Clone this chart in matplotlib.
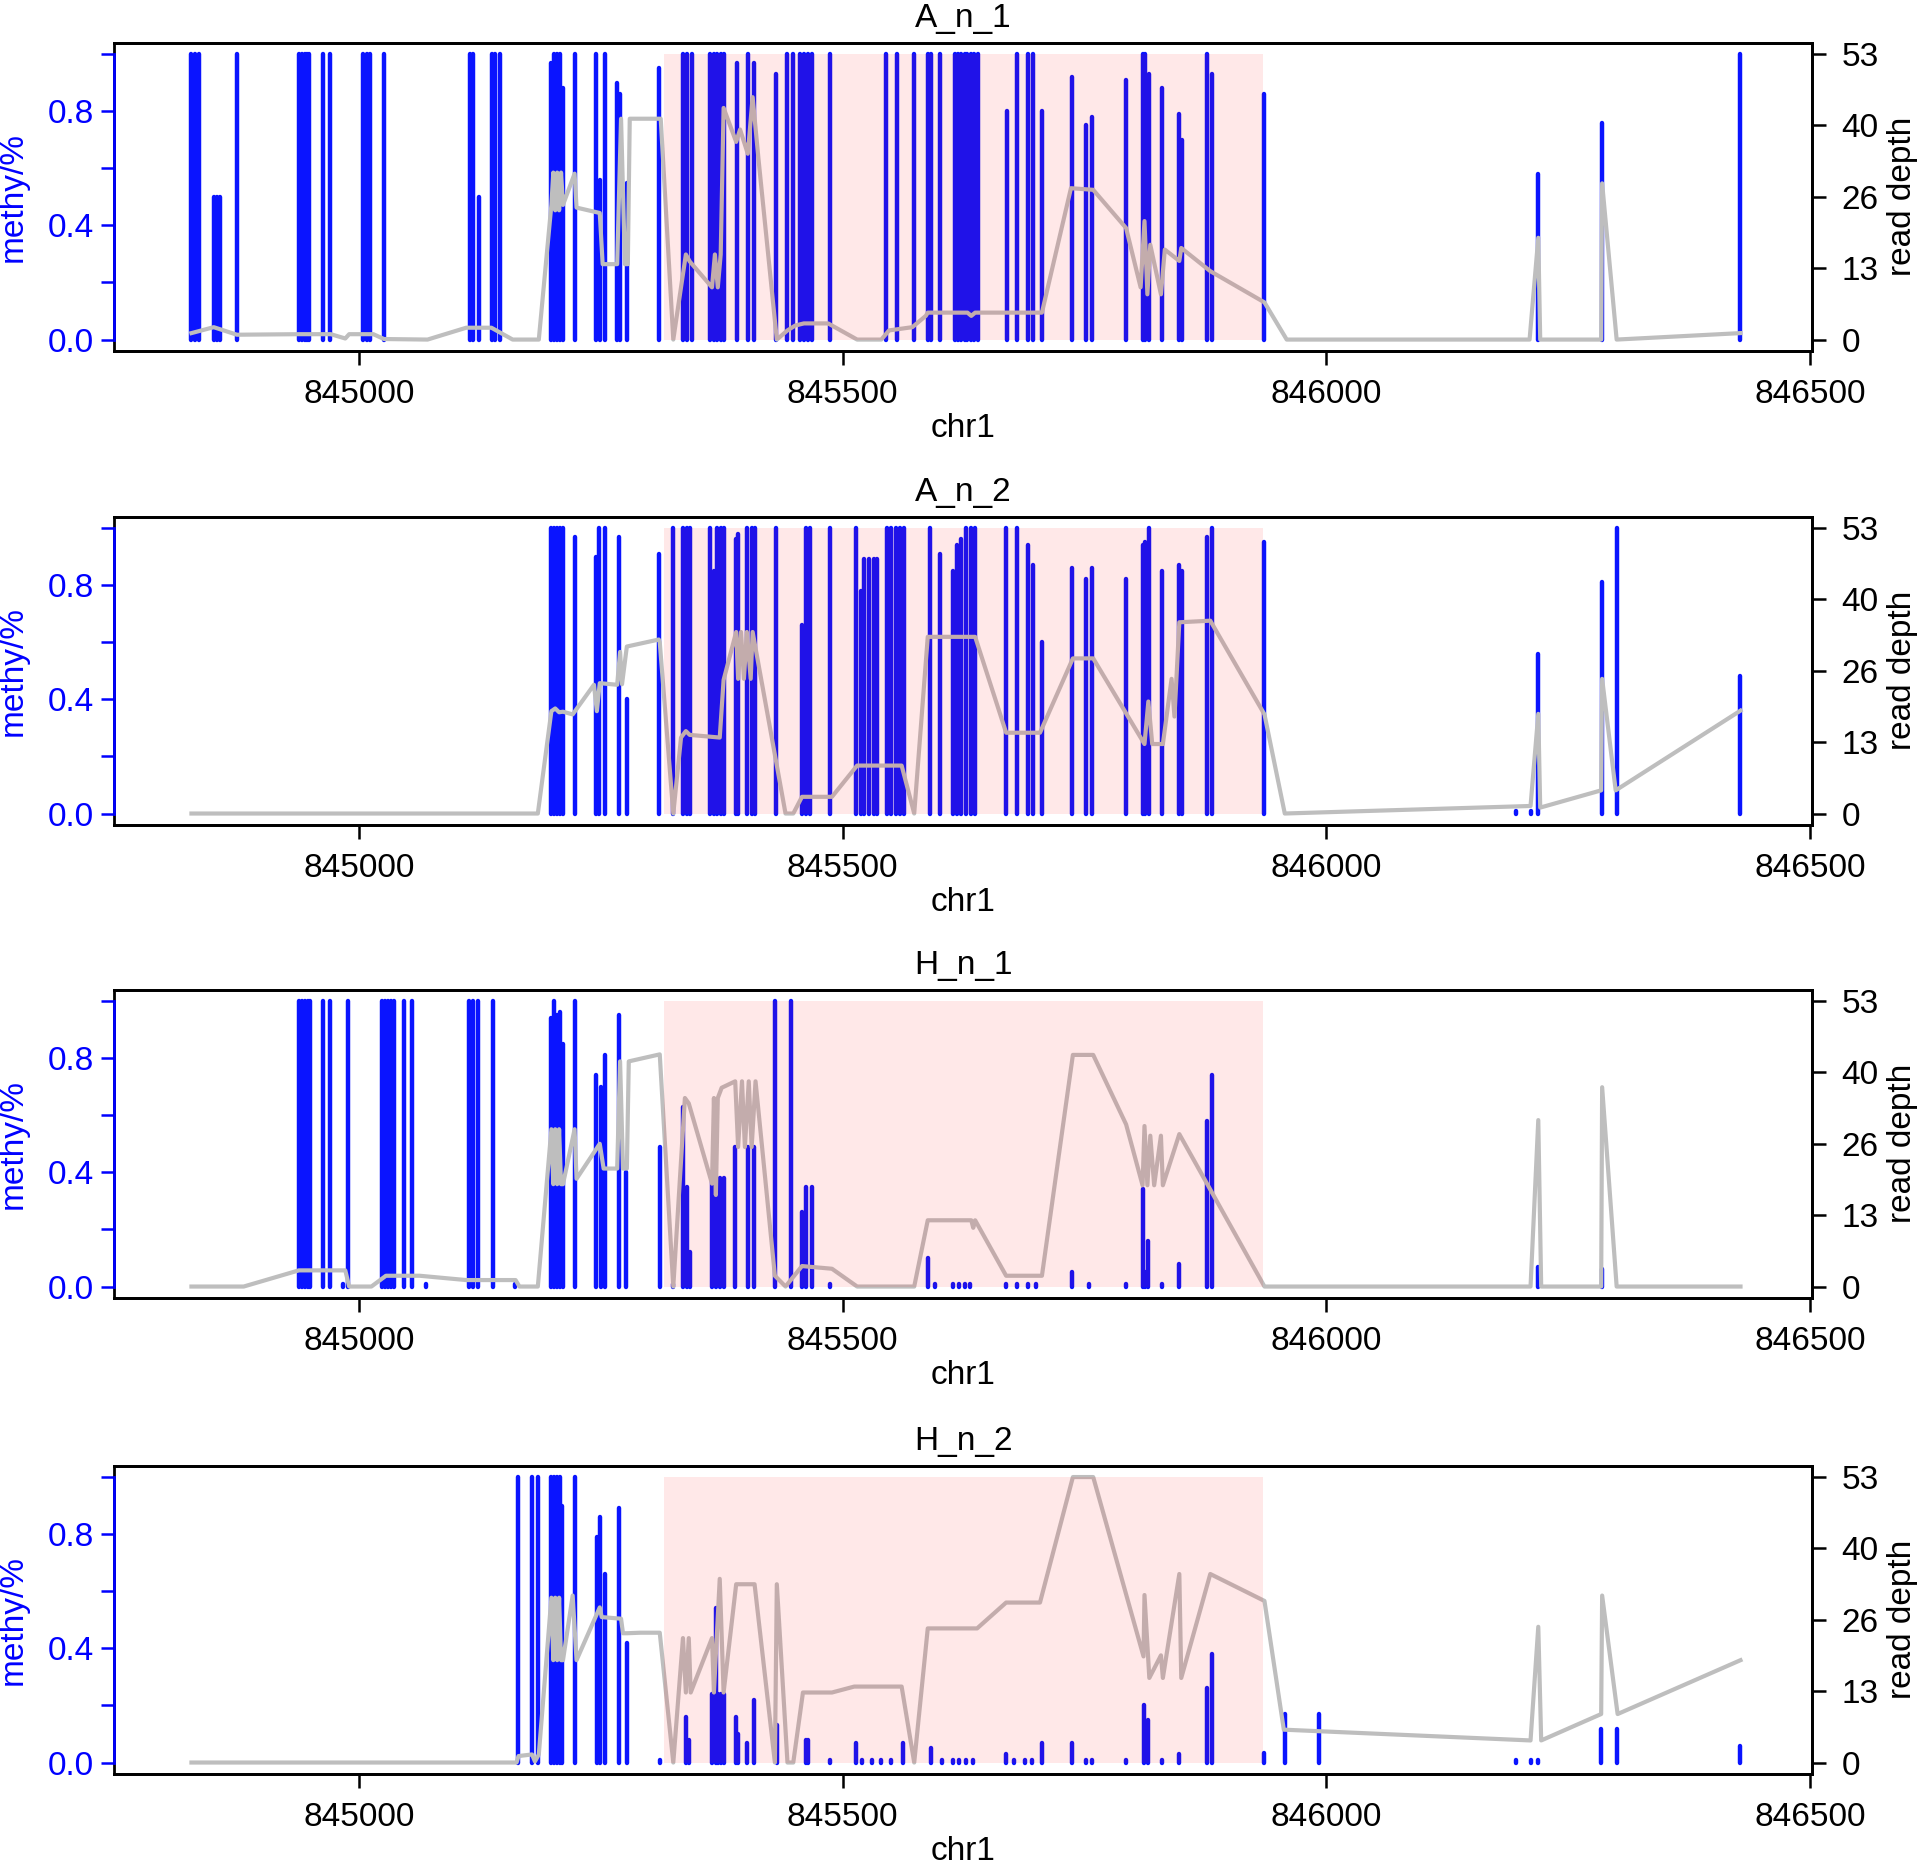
import matplotlib
matplotlib.use('Agg')
import matplotlib.pyplot as plt
from matplotlib.patches import Rectangle

plt.rcParams['font.family'] = ['Liberation Sans', 'DejaVu Sans']

# ---- data -------------------------------------------------------------
titles = ['A_n_1', 'A_n_2', 'H_n_1', 'H_n_2']

# A_n_1 : CpG position / methylation level
a1_cpg = [844827, 844831, 844835, 844850, 844853, 844856, 844874, 844938, 844941, 844944,
          844946, 844949, 844963, 844970, 845004, 845008, 845012, 845026, 845115, 845118,
          845124, 845138, 845141, 845146, 845199, 845202, 845205, 845208, 845211, 845223,
          845245, 845249, 845254, 845267, 845270, 845277, 845310, 845335, 845339, 845344,
          845363, 845367, 845370, 845374, 845377, 845391, 845402, 845408, 845431, 845443,
          845449, 845456, 845460, 845464, 845468, 845487, 845545, 845556, 845574, 845588,
          845591, 845601, 845616, 845619, 845622, 845626, 845629, 845633, 845636, 845640,
          845670, 845680, 845692, 845697, 845706, 845737, 845752, 845758, 845793, 845810,
          845813, 845817, 845830, 845848, 845851, 845877, 845882, 845936, 846219, 846285,
          846428]
a1_methy = [1.0, 1.0, 1.0, 0.5, 0.5, 0.5, 1.0, 1.0, 1.0, 1.0,
            1.0, 1.0, 1.0, 1.0, 1.0, 1.0, 1.0, 1.0, 1.0, 1.0,
            0.5, 1.0, 1.0, 1.0, 0.97, 1.0, 1.0, 1.0, 0.88, 1.0,
            1.0, 0.56, 1.0, 0.9, 0.86, 0.55, 0.95, 1.0, 1.0, 1.0,
            1.0, 1.0, 1.0, 1.0, 1.0, 0.97, 1.0, 0.97, 0.93, 1.0,
            1.0, 1.0, 1.0, 1.0, 1.0, 1.0, 1.0, 1.0, 1.0, 1.0,
            1.0, 1.0, 1.0, 1.0, 1.0, 1.0, 1.0, 1.0, 1.0, 1.0,
            0.80, 1.0, 1.0, 1.0, 0.80, 0.92, 0.75, 0.78, 0.91, 1.0,
            1.0, 0.93, 0.88, 0.79, 0.70, 1.0, 0.93, 0.86, 0.58, 0.76,
            1.0]
# A_n_1 : read depth
a1_dpos = [844827, 844850, 844874, 844938, 844971, 844986, 844990, 845015, 845026, 845071,
           845111, 845137, 845159, 845186, 845199, 845201, 845203, 845205, 845207, 845209,
           845211, 845223, 845225, 845249, 845252, 845267, 845271, 845275, 845278, 845280,
           845312, 845325, 845338, 845342, 845365, 845368, 845371, 845374, 845377, 845390,
           845394, 845402, 845407, 845413, 845432, 845443, 845451, 845460, 845485, 845515,
           845540, 845548, 845572, 845586, 845588, 845629, 845633, 845637, 845706, 845736,
           845759, 845793, 845808, 845812, 845815, 845818, 845829, 845833, 845848, 845850,
           845880, 845936, 845959, 846210, 846219, 846221, 846284, 846285, 846300, 846428]
a1_depth = [1.2, 2.3, 0.9, 1.0, 1.0, 0.2, 1.0, 1.0, 0.1, 0.0,
            2.2, 2.2, 0.0, 0.0, 25, 31, 24, 31, 24, 31,
            25, 30.8, 24.5, 23.5, 14.0, 14.0, 41, 14, 14, 41,
            41, 0, 15.8, 14.5, 9.7, 15.8, 9.7, 15.8, 43, 36.7,
            39, 34.5, 45, 33.6, 0, 1.7, 2.6, 3.0, 3.0, 0.0,
            0.0, 1.7, 2.3, 4.4, 5.0, 5.0, 4.4, 5.0, 5.0, 28.1,
            27.8, 20.7, 9.7, 22, 8.4, 17.6, 8.4, 16.7, 14.6, 17,
            12.7, 6.9, 0, 0, 18.9, 0, 0, 29, 0, 1.2]

# A_n_2
a2_cpg = [845199, 845202, 845205, 845208, 845211, 845223, 845245, 845248, 845254, 845269,
          845277, 845310, 845325, 845335, 845339, 845342, 845363, 845367, 845370, 845374,
          845377, 845390, 845392, 845401, 845406, 845409, 845431, 845458, 845462, 845466,
          845487, 845514, 845519, 845522, 845527, 845532, 845536, 845546, 845550, 845555,
          845559, 845563, 845590, 845601, 845614, 845618, 845622, 845628, 845633, 845637,
          845669, 845680, 845692, 845697, 845706, 845737, 845752, 845758, 845793, 845810,
          845813, 845817, 845830, 845848, 845851, 845877, 845882, 845936, 846196, 846211,
          846219, 846285, 846300, 846428]
a2_methy = [1.0, 1.0, 1.0, 1.0, 1.0, 0.97, 0.9, 1.0, 1.0, 0.97,
            0.4, 0.91, 1.0, 1.0, 1.0, 1.0, 1.0, 0.85, 1.0, 1.0,
            1.0, 0.96, 0.98, 1.0, 1.0, 1.0, 1.0, 0.66, 1.0, 1.0,
            1.0, 1.0, 0.78, 0.89, 0.89, 0.89, 0.89, 1.0, 1.0, 1.0,
            1.0, 1.0, 1.0, 0.91, 0.85, 0.94, 0.96, 1.0, 1.0, 1.0,
            1.0, 1.0, 0.94, 0.87, 0.60, 0.86, 0.82, 0.86, 0.82, 0.94,
            0.95, 1.0, 0.85, 0.87, 0.85, 0.97, 1.0, 0.95, 0.01, 0.01,
            0.56, 0.81, 1.0, 0.48]
a2_dpos = [844827, 845185, 845199, 845203, 845207, 845211, 845221, 845243, 845246, 845249,
           845267, 845270, 845272, 845277, 845310, 845311, 845325, 845333, 845338, 845342,
           845373, 845377, 845390, 845392, 845395, 845398, 845401, 845405, 845407, 845441,
           845449, 845458, 845489, 845515, 845561, 845574, 845588, 845637, 845669, 845704,
           845738, 845759, 845812, 845816, 845820, 845831, 845840, 845843, 845848, 845880,
           845936, 845957, 846211, 846219, 846221, 846284, 846285, 846299, 846428]
a2_depth = [0, 0, 19, 19.5, 18.8, 18.9, 18.4, 23.9, 19, 24.2,
            23.9, 30, 24, 31, 32.3, 31.8, 0, 14.1, 15.3, 14.6,
            14.1, 24.8, 33.7, 25, 33.7, 25, 33.7, 25, 33.7, 0,
            0, 3.1, 3.1, 8.9, 8.9, 0, 32.8, 32.8, 15, 15,
            28.8, 28.8, 12.9, 20.8, 12.9, 12.9, 25, 18, 35.5, 35.8,
            18.4, 0, 1.4, 18.5, 1.1, 4.3, 25, 4.3, 19.1]

# H_n_1
h1_cpg = [844938, 844941, 844944, 844947, 844950, 844963, 844970, 844984, 844989, 845024,
          845027, 845030, 845033, 845036, 845047, 845055, 845069, 845114, 845118, 845123,
          845139, 845161, 845199, 845202, 845205, 845208, 845211, 845223, 845245, 845250,
          845254, 845269, 845276, 845311, 845325, 845335, 845339, 845342, 845365, 845369,
          845373, 845377, 845389, 845402, 845408, 845430, 845447, 845458, 845462, 845468,
          845487, 845588, 845596, 845614, 845620, 845626, 845632, 845669, 845680, 845692,
          845700, 845737, 845755, 845793, 845810, 845813, 845816, 845830, 845848, 845877,
          845882, 846219, 846285]
h1_methy = [1.0, 1.0, 1.0, 1.0, 1.0, 1.0, 1.0, 0.01, 1.0, 1.0,
            1.0, 1.0, 1.0, 1.0, 1.0, 1.0, 0.01, 1.0, 1.0, 1.0,
            1.0, 0.01, 0.94, 1.0, 0.95, 0.96, 0.85, 1.0, 0.74, 0.70,
            0.81, 0.95, 0.40, 0.49, 0.01, 0.63, 0.35, 0.12, 0.38, 0.38,
            0.38, 0.38, 0.49, 0.49, 0.49, 1.0, 1.0, 0.26, 0.35, 0.35,
            0.01, 0.10, 0.01, 0.01, 0.01, 0.01, 0.01, 0.01, 0.01, 0.01,
            0.01, 0.05, 0.01, 0.01, 0.34, 0.05, 0.16, 0.01, 0.08, 0.58,
            0.74, 0.07, 0.06]
h1_dpos = [844827, 844881, 844938, 844986, 844990, 845013, 845028, 845063, 845111, 845162,
           845166, 845185, 845199, 845201, 845203, 845205, 845207, 845209, 845211, 845223,
           845225, 845249, 845253, 845267, 845270, 845273, 845277, 845279, 845311, 845325,
           845337, 845341, 845365, 845367, 845369, 845371, 845375, 845389, 845392, 845396,
           845399, 845403, 845406, 845410, 845430, 845441, 845458, 845489, 845515, 845574,
           845588, 845633, 845635, 845637, 845669, 845706, 845738, 845759, 845793, 845810,
           845812, 845815, 845818, 845822, 845829, 845831, 845848, 845936, 846211, 846219,
           846222, 846284, 846285, 846300, 846428]
h1_depth = [0, 0, 3.0, 3.0, 0, 0, 2.0, 2.0, 1.2, 1.2,
            0, 0, 29.2, 19, 29.2, 19, 29.2, 19, 19, 29.2,
            20, 26.5, 21.9, 21.9, 41.8, 21.9, 21.9, 41.8, 43.1, 0,
            35, 34, 19.1, 35, 17, 35, 36.9, 38.1, 25.9, 38.1,
            25.9, 38.1, 25.9, 38.1, 2, 0, 3.8, 3.3, 0, 0,
            12.3, 12.3, 10.9, 12.3, 2.0, 2.0, 43, 43, 30.1, 18.8,
            29.8, 18.8, 28, 18.8, 28, 18.8, 28.3, 0, 0, 30.9,
            0, 0, 37, 0, 0]

# H_n_2
h2_cpg = [845164, 845179, 845185, 845199, 845202, 845205, 845208, 845210, 845223, 845246,
          845249, 845254, 845269, 845277, 845311, 845338, 845341, 845365, 845369, 845371,
          845374, 845377, 845390, 845392, 845401, 845408, 845432, 845462, 845464, 845487,
          845514, 845520, 845530, 845540, 845550, 845562, 845591, 845603, 845614, 845620,
          845628, 845635, 845669, 845677, 845688, 845696, 845706, 845737, 845752, 845758,
          845793, 845811, 845816, 845830, 845848, 845877, 845882, 845936, 845957, 845992,
          846196, 846211, 846219, 846284, 846300, 846428]
h2_methy = [1.0, 1.0, 1.0, 1.0, 1.0, 1.0, 1.0, 0.9, 1.0, 0.79,
            0.86, 0.66, 0.89, 0.42, 0.01, 0.16, 0.08, 0.24, 0.54, 0.24,
            0.24, 0.24, 0.16, 0.10, 0.07, 0.22, 0.13, 0.08, 0.08, 0.01,
            0.07, 0.01, 0.01, 0.01, 0.01, 0.07, 0.05, 0.01, 0.01, 0.01,
            0.01, 0.01, 0.03, 0.01, 0.01, 0.01, 0.07, 0.07, 0.01, 0.01,
            0.01, 0.20, 0.15, 0.01, 0.03, 0.26, 0.38, 0.035, 0.17, 0.17,
            0.01, 0.01, 0.01, 0.116, 0.116, 0.058]
h2_dpos = [844827, 845163, 845165, 845179, 845182, 845186, 845199, 845201, 845203, 845205,
           845207, 845209, 845211, 845221, 845225, 845249, 845251, 845271, 845273, 845277,
           845291, 845311, 845325, 845335, 845338, 845341, 845343, 845365, 845367, 845373,
           845377, 845390, 845409, 845430, 845432, 845443, 845449, 845459, 845489, 845512,
           845561, 845574, 845588, 845639, 845669, 845704, 845738, 845759, 845811, 845812,
           845817, 845829, 845831, 845848, 845850, 845880, 845936, 845956, 846211, 846219,
           846222, 846284, 846285, 846301, 846428]
h2_depth = [0, 0, 1.2, 1.5, 0.2, 1.5, 30.6, 19, 30.6, 19,
            30.6, 19, 19, 31, 19, 28.8, 27, 26.7, 24, 24,
            24.1, 24.1, 0, 23.1, 13, 23.1, 13, 23.1, 13, 34.1,
            13, 33.1, 33.1, 0, 33.1, 0, 0, 13, 13, 14.1,
            14.1, 0, 24.9, 24.9, 29.7, 29.7, 53, 53, 19.7, 31.1,
            15.7, 19.9, 15.7, 35, 15.7, 35, 30.0, 6.1, 4.1, 25.2,
            4.1, 9.0, 31, 9.0, 19.0]

region_start = 845315
region_end = 845935
depth_max = 53

cpg_all = [a1_cpg, a2_cpg, h1_cpg, h2_cpg]
methy_all = [a1_methy, a2_methy, h1_methy, h2_methy]
dpos_all = [a1_dpos, a2_dpos, h1_dpos, h2_dpos]
depth_all = [a1_depth, a2_depth, h1_depth, h2_depth]

# ---- plotting ---------------------------------------------------------
fig = plt.figure(figsize=(19.2, 18.63), dpi=100)
bottoms = [0.8116, 0.5572, 0.3033, 0.0478]
fs = 24

for i in range(4):
    ax = fig.add_axes([0.0594, bottoms[i], 0.8844, 0.1655])
    ax.vlines(cpg_all[i], 0, methy_all[i], colors='#0a14ff', linewidth=3.2, capstyle='round')
    ax.set_xlim(844747, 846502)
    ax.set_ylim(-0.04, 1.04)
    ax.set_xticks([845000, 845500, 846000, 846500])
    ax.set_xticklabels(['845000', '845500', '846000', '846500'])
    ax.set_yticks([0, 0.2, 0.4, 0.6, 0.8, 1.0])
    ax.set_yticklabels(['0.0', '', '0.4', '', '0.8', ''])
    ax.tick_params(axis='x', length=10, width=1.8, labelsize=fs, pad=10)
    ax.tick_params(axis='y', colors='blue', length=9.5, width=1.8, labelsize=fs, pad=5)
    for s in ax.spines.values():
        s.set_linewidth(2)
    # blue left axis line over the box
    ax.plot([0, 0], [0, 1], transform=ax.get_yaxis_transform(), color='blue',
            linewidth=2, clip_on=False, zorder=3)
    ax.set_xlabel('chr1', fontsize=fs)
    ax.xaxis.set_label_coords(0.5, -0.2)
    ax.set_ylabel('methy/%', fontsize=fs, color='blue')
    ax.yaxis.set_label_coords(-0.05, 0.5)
    ax.set_title(titles[i], fontsize=fs, pad=11)

    ax2 = ax.twinx()
    ax2.plot(dpos_all[i], depth_all[i], color='#bebebe', linewidth=3)
    ax2.add_patch(Rectangle((region_start, 0), region_end - region_start, depth_max,
                            facecolor='red', alpha=0.09, linewidth=0, zorder=4))
    ax2.set_ylim(-0.04 * depth_max, 1.04 * depth_max)
    ax2.set_yticks([0, 13.25, 26.5, 39.75, 53])
    ax2.set_yticklabels(['0', '13', '26', '40', '53'])
    ax2.tick_params(axis='y', length=10, width=1.8, labelsize=fs, pad=11)
    ax2.spines['left'].set_visible(False)
    for s in ['right', 'top', 'bottom']:
        ax2.spines[s].set_linewidth(2)
    ax2.set_ylabel('read depth', fontsize=fs)
    ax2.yaxis.set_label_coords(1.044, 0.5)

fig.savefig('out.png', dpi=100)
